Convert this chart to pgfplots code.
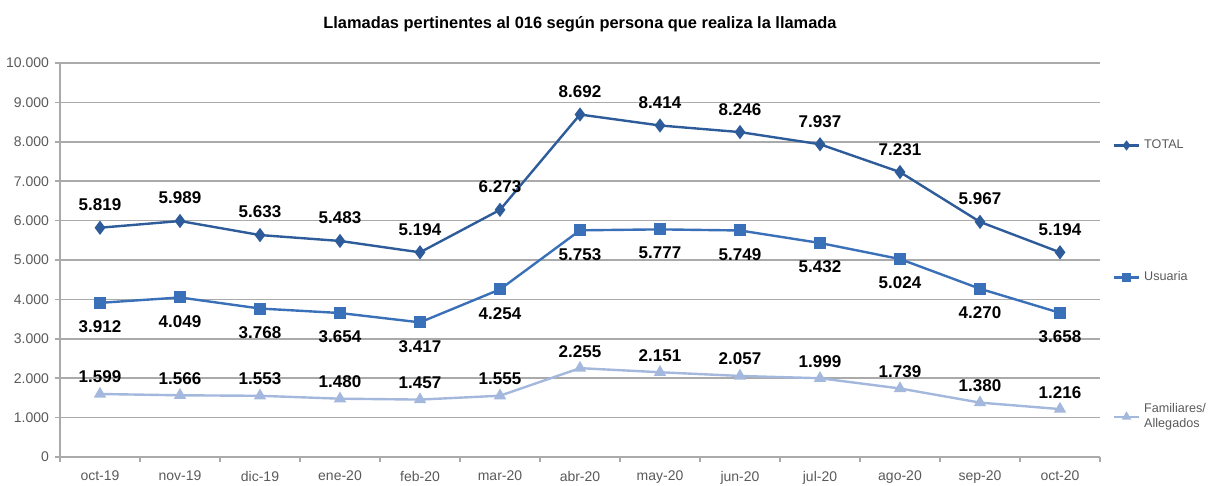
\documentclass[border=0pt]{standalone}
\usepackage{pgfplots}
\pgfplotsset{compat=1.18}
\usepackage{fontspec}
\setmainfont{Liberation Sans}
\definecolor{ctotal}{RGB}{46,92,154}
\definecolor{cusu}{RGB}{58,112,184}
\definecolor{cfam}{RGB}{163,184,220}
\definecolor{cgrid}{RGB}{170,170,170}
\definecolor{ctick}{RGB}{90,90,90}
\begin{document}
\begin{tikzpicture}
\begin{axis}[
  at={(0,0)}, anchor=south west,
  scale only axis, width=520pt, height=197pt,
  xmin=-0.5, xmax=12.5, ymin=0, ymax=10000,
  xtick={0,...,12},
  xticklabels={oct-19,nov-19,dic-19,ene-20,feb-20,mar-20,abr-20,may-20,jun-20,jul-20,ago-20,sep-20,oct-20},
  minor xtick={-0.5,0.5,...,12.5},
  ytick={0,1000,...,10000},
  scaled y ticks=false,
  axis x line*=bottom, axis y line*=left,
  axis line style={cgrid, line width=0.8pt},
  tick align=outside,
  major tick length=2.5pt, minor tick length=2.5pt,
  x tick style={draw=none},
  minor x tick style={draw=cgrid, line width=0.8pt},
  y tick style={draw=cgrid, line width=0.8pt},
  ymajorgrids, grid style={cgrid, line width=0.8pt},
  tick label style={font=\fontsize{7}{8}\selectfont, text=ctick},
  /pgf/number format/assume math mode=true,
  /pgf/number format/1000 sep={.},
  /pgf/number format/fixed,
  yticklabel style={xshift=0.5pt},
  xticklabel style={yshift=-1pt},
  clip=false,
  nodes near coords,
  nodes near coords style={font=\bfseries\fontsize{8.5}{9}\selectfont, text=black,
     /pgf/number format/assume math mode=true, /pgf/number format/1000 sep={.}},
  title={\bfseries Llamadas pertinentes al 016 según persona que realiza la llamada},
  title style={font=\fontsize{8.2}{9}\selectfont, yshift=6pt},
  legend image code/.code={\draw[mark repeat=2,mark phase=2,mark size=1.6pt]
     plot coordinates {(0cm,0cm)(0.22cm,0cm)(0.44cm,0cm)};},
  legend style={at={(1.010,0.827)}, anchor=north west, draw=none, fill=none,
     font=\fontsize{6.3}{7.3}\selectfont, text=ctick, row sep=56pt,
     cells={align=left, anchor=west}, inner xsep=1pt},
  legend cell align=left,
]
\addplot[ctotal, line width=1.2pt, mark=diamond*, mark size=2.6pt,
  nodes near coords style={anchor=south, yshift=4.5pt}]
  coordinates {(0,5819)(1,5989)(2,5633)(3,5483)(4,5194)(5,6273)(6,8692)(7,8414)(8,8246)(9,7937)(10,7231)(11,5967)(12,5194)};
\addlegendentry{TOTAL}
\addplot[cusu, line width=1.2pt, mark=square*, mark size=2.4pt,
  nodes near coords style={anchor=north, yshift=-5pt}]
  coordinates {(0,3912)(1,4049)(2,3768)(3,3654)(4,3417)(5,4254)(6,5753)(7,5777)(8,5749)(9,5432)(10,5024)(11,4270)(12,3658)};
\addlegendentry{Usuaria}
\addplot[cfam, line width=1.2pt, mark=triangle*, mark size=2.4pt,
  nodes near coords style={anchor=south, yshift=1.5pt}]
  coordinates {(0,1599)(1,1566)(2,1553)(3,1480)(4,1457)(5,1555)(6,2255)(7,2151)(8,2057)(9,1999)(10,1739)(11,1380)(12,1216)};
\addlegendentry{Familiares/\\Allegados}
\end{axis}
\pgfresetboundingbox
\useasboundingbox (-30pt,-14.5pt) rectangle (575.5pt,228.5pt);
\end{tikzpicture}
\end{document}
